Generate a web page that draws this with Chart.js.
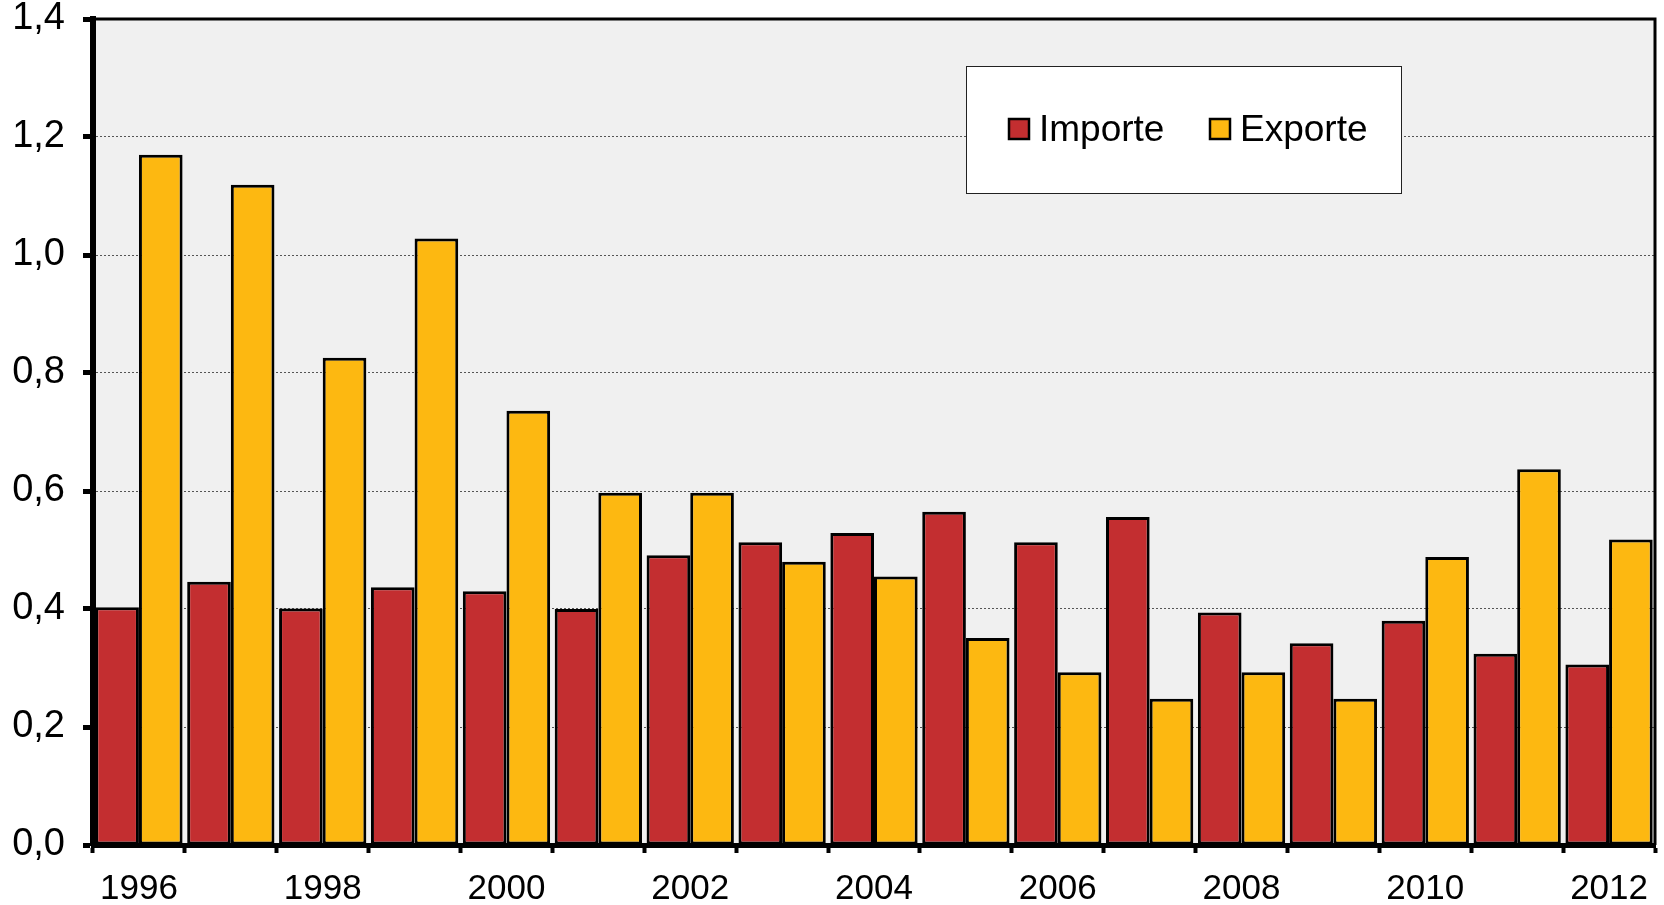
<!DOCTYPE html>
<html>
<head>
<meta charset="utf-8">
<script src="https://cdn.jsdelivr.net/npm/chart.js@4"></script>
<style>
  html, body { margin: 0; padding: 0; background: #fff; }
  #wrap { width: 1664px; height: 905px; }
</style>
</head>
<body>
<div id="wrap"><canvas id="c" width="1664" height="905"></canvas></div>
<script>
// years on the x axis
const years = ["1996","1997","1998","1999","2000","2001","2002","2003","2004",
               "2005","2006","2007","2008","2009","2010","2011","2012"];
const importe = [0.403,0.446,0.401,0.437,0.430,0.400,0.491,0.513,0.529,
                 0.565,0.513,0.556,0.394,0.342,0.380,0.324,0.306];
const exporte = [1.170,1.119,0.826,1.028,0.736,0.597,0.597,0.480,0.455,
                 0.351,0.293,0.248,0.293,0.248,0.488,0.637,0.518];
const yTicks = [0,0.2,0.4,0.6,0.8,1.0,1.2,1.4];

const FONT = "'Liberation Sans', Arial, sans-serif";

// grey plot background + top/right frame
const plotFrame = {
  id: "plotFrame",
  beforeDraw(chart) {
    const { ctx, chartArea: a } = chart;
    ctx.save();
    ctx.fillStyle = "#f0f0f0";
    ctx.fillRect(a.left, a.top, a.right - a.left, a.bottom - a.top);
    ctx.restore();
  },
  afterDatasetsDraw(chart) {
    const { ctx, chartArea: a } = chart;
    ctx.save();
    ctx.strokeStyle = "#000";
    ctx.lineWidth = 3;
    ctx.beginPath();
    ctx.moveTo(a.left, a.top);
    ctx.lineTo(a.right, a.top);
    ctx.lineTo(a.right, a.bottom);
    ctx.stroke();
    ctx.restore();
  },
};

// legend box inside the plot, like the original
const boxLegend = {
  id: "boxLegend",
  afterDraw(chart) {
    const { ctx } = chart;
    const x = 966, y = 66, w = 435, h = 127;
    ctx.save();
    ctx.fillStyle = "#fff";
    ctx.fillRect(x, y, w, h);
    ctx.strokeStyle = "#222";
    ctx.lineWidth = 1;
    ctx.strokeRect(x + 0.5, y + 0.5, w, h);
    const starts = [1009, 1210];
    ctx.font = "37px " + FONT;
    ctx.textBaseline = "middle";
    chart.data.datasets.forEach((ds, i) => {
      const sx = starts[i], cy = 129;
      ctx.fillStyle = ds.backgroundColor;
      ctx.fillRect(sx, cy - 10, 20, 20);
      ctx.strokeStyle = "#000";
      ctx.lineWidth = 2.5;
      ctx.strokeRect(sx, cy - 10, 20, 20);
      ctx.fillStyle = "#000";
      ctx.fillText(ds.label, sx + 30, cy + 2);
    });
    ctx.restore();
  },
};

function noPad(s) {
  s.paddingTop = 0; s.paddingBottom = 0; s.paddingLeft = 0; s.paddingRight = 0;
}

new Chart(document.getElementById("c"), {
  type: "bar",
  data: {
    labels: years,
    datasets: [
      { label: "Importe", data: importe, backgroundColor: "#c32e30", borderColor: "#000", borderWidth: 3, borderSkipped: false },
      { label: "Exporte", data: exporte, backgroundColor: "#fdb811", borderColor: "#000", borderWidth: 3, borderSkipped: false },
    ],
  },
  options: {
    responsive: false,
    animation: false,
    layout: { padding: { top: 19, right: 9, left: 0, bottom: 0 } },
    datasets: { bar: { categoryPercentage: 0.95, barPercentage: 1.0 } },
    plugins: { legend: { display: false }, tooltip: { enabled: false } },
    scales: {
      x: {
        afterFit: (s) => { s.height = 60; noPad(s); },
        grid: { offset: true, drawOnChartArea: false, tickLength: 8, tickWidth: 4, tickColor: "#000" },
        border: { display: true, color: "#000", width: 5 },
        ticks: {
          autoSkip: false,
          maxRotation: 0,
          color: "#000",
          padding: 15,
          font: { family: FONT, size: 35 },
          callback: (v, i) => (i % 2 === 0 ? years[i] : ""),
        },
      },
      y: {
        min: 0,
        max: 1.4,
        afterFit: (s) => { s.width = 93; noPad(s); },
        afterBuildTicks: (s) => { s.ticks = yTicks.map((v) => ({ value: v })); },
        grid: { color: "#555", lineWidth: 1, tickLength: 10, tickWidth: 5, tickColor: "#000", tickBorderDash: [] },
        border: { display: true, color: "#000", width: 6, dash: [2, 2] },
        ticks: {
          color: "#000",
          padding: 18,
          font: { family: FONT, size: 38 },
          callback: (v) => v.toFixed(1).replace(".", ","),
        },
      },
    },
  },
  plugins: [plotFrame, boxLegend],
});
</script>
</body>
</html>
